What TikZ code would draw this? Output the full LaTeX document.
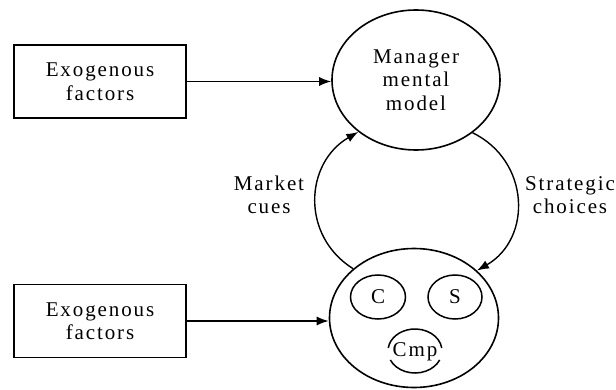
\documentclass[tikz,border=0pt]{standalone}
\usepackage{fontspec}
\setmainfont{Liberation Serif}[LetterSpace=9]
\usetikzlibrary{shapes.geometric,arrows.meta}
\tikzset{
  lbl/.style={font=\fontsize{21}{23.5}\selectfont, align=center, inner sep=0pt},
  exobox/.style={draw, line width=1.7pt, minimum width=172pt, minimum height=73pt, lbl},
  bigcirc/.style={ellipse, draw, line width=1.6pt, minimum width=168pt, minimum height=140pt, lbl},
  smallcirc/.style={ellipse, draw, line width=1.5pt, minimum width=54pt, minimum height=44pt, lbl},
  conn/.style={line width=1.4pt, -{Latex[length=12pt,width=9pt]}},
  ring/.style={line width=1.5pt}
}
\begin{document}
\begin{tikzpicture}[x=1pt,y=1pt]
\useasboundingbox (0,0) rectangle (616,389);
\node[exobox] (exo1) at (100,307.5) {Exogenous\\factors};
\node[exobox] (exo2) at (100,68) {Exogenous\\factors};
\node[bigcirc] (mgr) at (416,309) {Manager\\mental\\model};
\node[bigcirc, minimum width=169pt, minimum height=139pt] (mkt) at (414,71) {};
\node[smallcirc, minimum width=55pt] (c) at (378,92) {C};
\node[smallcirc] (s) at (455,92) {S};
\node[lbl] (cmp) at (415,37) {Cmp};
\draw[ring] ([shift={(8:27pt and 22pt)}]415,38) arc[start angle=8, end angle=172, x radius=27pt, y radius=22pt];
\draw[ring] ([shift={(204:27pt and 22pt)}]415,38) arc[start angle=204, end angle=336, x radius=27pt, y radius=22pt];
\node[lbl] (mcues) at (269,194) {Market\\cues};
\node[lbl] (schoices) at (570,194) {Strategic\\choices};
\draw[conn] (exo1.east) -- (mgr.west |- exo1.east);
\draw[conn] (exo2.east) -- (mkt.west |- exo2.east);
\draw[conn] (mkt.141) .. controls +(148:62) and +(210:62) .. (mgr.222);
\draw[conn] (mgr.317) .. controls +(-26:64) and +(30:64) .. (mkt.37);
\end{tikzpicture}
\end{document}
